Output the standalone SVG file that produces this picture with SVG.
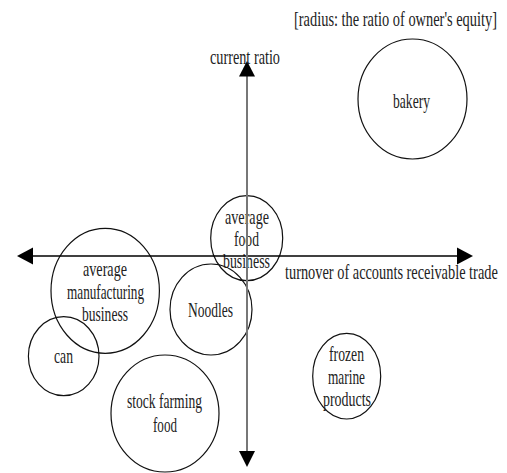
<svg xmlns="http://www.w3.org/2000/svg" width="507" height="473" viewBox="0 0 507 473">
<style>
text{font-family:"Liberation Serif","DejaVu Serif",serif;font-size:21px;fill:#222}
.c{fill:none;stroke:#111;stroke-width:1.2}
.ax{stroke:#000;stroke-width:1.3}
.ay{stroke:#777;stroke-width:2}
.ah{fill:#000}
</style>
<rect width="507" height="473" fill="#fff"/>
<text transform="translate(294,26) scale(0.7,1)" x="0" y="0" textLength="290" lengthAdjust="spacingAndGlyphs">[radius: the ratio of owner's equity]</text>
<g id="bakery"><ellipse class="c" cx="412.5" cy="99" rx="54.5" ry="60"/><text x="393" y="108" textLength="37" lengthAdjust="spacingAndGlyphs">bakery</text></g>
<g id="avg-food"><ellipse class="c" cx="246.7" cy="238.2" rx="36" ry="42.5"/>
<text x="225" y="224" textLength="44" lengthAdjust="spacingAndGlyphs">average</text>
<text x="234" y="246" textLength="25" lengthAdjust="spacingAndGlyphs">food</text>
<text x="223" y="268" textLength="47" lengthAdjust="spacingAndGlyphs">business</text></g>
<g id="avg-manuf"><ellipse class="c" cx="105.2" cy="290.8" rx="54.2" ry="62.5"/>
<text x="83" y="276" textLength="44" lengthAdjust="spacingAndGlyphs">average</text>
<text x="67" y="299" textLength="77" lengthAdjust="spacingAndGlyphs">manufacturing</text>
<text x="82" y="321" textLength="46" lengthAdjust="spacingAndGlyphs">business</text></g>
<g id="noodles"><ellipse class="c" cx="211" cy="309.5" rx="41" ry="45.5"/><text x="188" y="317" textLength="45" lengthAdjust="spacingAndGlyphs">Noodles</text></g>
<g id="can"><ellipse class="c" cx="63.7" cy="356.2" rx="35.3" ry="39.5"/><text x="54" y="363" textLength="19" lengthAdjust="spacingAndGlyphs">can</text></g>
<g id="stock"><ellipse class="c" cx="165" cy="413.5" rx="54" ry="58.5"/>
<text x="127" y="408" textLength="75" lengthAdjust="spacingAndGlyphs">stock farming</text>
<text x="153" y="432" textLength="24" lengthAdjust="spacingAndGlyphs">food</text></g>
<g id="frozen"><ellipse class="c" cx="346.7" cy="376.2" rx="34" ry="42.8"/>
<text x="329" y="361" textLength="35" lengthAdjust="spacingAndGlyphs">frozen</text>
<text x="328" y="384" textLength="37" lengthAdjust="spacingAndGlyphs">marine</text>
<text x="323" y="406" textLength="48" lengthAdjust="spacingAndGlyphs">products</text></g>
<g id="connectors">
<line class="ax" x1="33" y1="256" x2="457" y2="256"/>
<polygon class="ah" points="17,256 33,247.5 33,264.5"/>
<polygon class="ah" points="473,256 457,247.5 457,264.5"/>
<line class="ay" x1="247" y1="76" x2="247" y2="451"/>
<polygon class="ah" points="247,61 239,76.5 255,76.5"/>
<polygon class="ah" points="247,467 239,451 255,451"/>
</g>
<text x="210" y="64" textLength="70" lengthAdjust="spacingAndGlyphs">current ratio</text>
<text transform="translate(285,279) scale(0.7,1)" x="0" y="0" textLength="304" lengthAdjust="spacingAndGlyphs">turnover of accounts receivable trade</text>
</svg>
